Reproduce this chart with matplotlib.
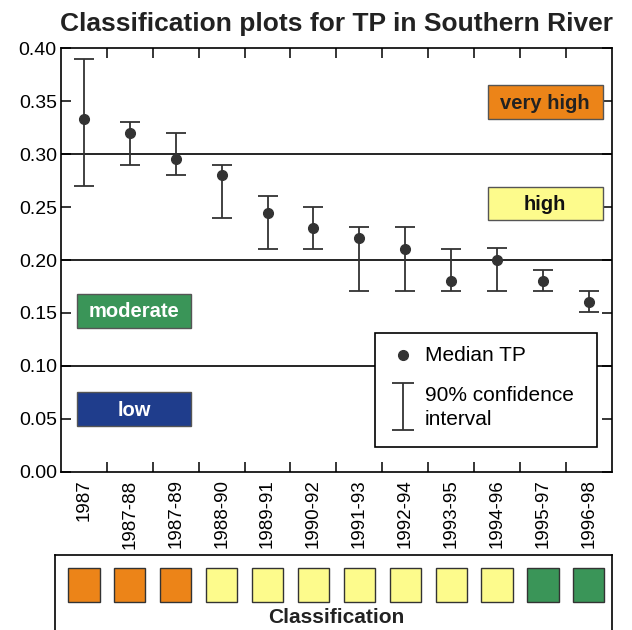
import numpy as np
import matplotlib.pyplot as plt
from matplotlib.patches import Rectangle

plt.rcParams['font.family'] = ['Liberation Sans', 'DejaVu Sans']

periods = ['1987', '1987-88', '1987-89', '1988-90', '1989-91', '1990-92',
           '1991-93', '1992-94', '1993-95', '1994-96', '1995-97', '1996-98']
median_tp = [0.333, 0.320, 0.295, 0.280, 0.244, 0.230, 0.221, 0.210, 0.180, 0.200, 0.180, 0.160]
ci_low = [0.270, 0.290, 0.280, 0.240, 0.210, 0.210, 0.171, 0.171, 0.171, 0.171, 0.171, 0.151]
ci_high = [0.390, 0.330, 0.320, 0.290, 0.260, 0.250, 0.231, 0.231, 0.210, 0.211, 0.191, 0.171]
period_class = ['very high'] * 3 + ['high'] * 7 + ['moderate'] * 2

class_names = ['very high', 'high', 'moderate', 'low']
class_colors = {'very high': '#ec8418', 'high': '#fdfb8c', 'moderate': '#3a9558', 'low': '#1f3d8c'}
class_text = {'very high': '#222222', 'high': '#111111', 'moderate': 'white', 'low': 'white'}
# label boxes: (x0, x1, y0, y1) in data units
class_box = {'very high': (9.3, 11.8, 0.333, 0.365), 'high': (9.3, 11.8, 0.238, 0.269),
             'moderate': (0.35, 2.83, 0.136, 0.168), 'low': (0.35, 2.83, 0.043, 0.075)}
bounds = [0.1, 0.2, 0.3]

fig = plt.figure(figsize=(6.32, 6.30), dpi=100)
ax = fig.add_axes([0.0965, 0.2508, 0.8715, 0.673])
x = np.arange(len(periods)) + 0.5
med = np.array(median_tp)
err = [med - np.array(ci_low), np.array(ci_high) - med]
ax.errorbar(x, med, yerr=err, fmt='o', color='#333333', ms=7, capsize=7.5,
            capthick=1.3, elinewidth=1.3, zorder=5)
for b in bounds:
    ax.axhline(b, color='black', lw=1.2, zorder=1)

for c in class_names:
    x0, x1, y0, y1 = class_box[c]
    ax.add_patch(Rectangle((x0, y0), x1 - x0, y1 - y0, facecolor=class_colors[c],
                           edgecolor='#555555', lw=1.0, zorder=3))
    ax.text((x0 + x1) / 2, (y0 + y1) / 2 - 0.001, c, ha='center', va='center', fontsize=14.5,
            fontweight='bold', color=class_text[c], zorder=4)

# legend box
ax.add_patch(Rectangle((6.84, 0.024), 4.84, 0.107, facecolor='white', edgecolor='black',
                       lw=1.2, zorder=3))
ax.plot([7.45], [0.110], 'o', color='#333333', ms=7, zorder=4)
ax.errorbar([7.45], [0.062], yerr=[[0.022], [0.022]], fmt='none', color='#333333',
            capsize=8, capthick=1.3, elinewidth=1.3, zorder=4)
ax.text(7.93, 0.110, 'Median TP', va='center', fontsize=15, zorder=4)
ax.text(7.93, 0.061, '90% confidence\ninterval', va='center', fontsize=15,
        linespacing=1.3, zorder=4)

ax.set_xlim(0, len(periods))
ax.set_ylim(0, 0.40)
ax.set_yticks(np.arange(0, 0.401, 0.05))
ax.set_yticklabels(['%.2f' % v for v in np.arange(0, 0.401, 0.05)], fontsize=14)
ax.set_xticks(np.arange(1, len(periods)))
ax.set_xticklabels([])
ax.tick_params(direction='in', length=7, width=1.1, top=True, right=True, pad=3)
for i, p in enumerate(periods):
    ax.text(x[i], -0.007, p, rotation=90, ha='center', va='top', fontsize=13.5)
for s in ax.spines.values():
    s.set_linewidth(1.2)
ax.set_title('Classification plots for TP in Southern River', fontsize=19,
             fontweight='bold', color='#222222', pad=12)

# classification strip
cax = fig.add_axes([0.087, -0.01, 0.881, 0.129])
cax.set_xlim(-0.13, len(periods))
cax.set_ylim(0, 1)
for i, c in enumerate(period_class):
    cax.add_patch(Rectangle((x[i] - 0.34, 0.42), 0.68, 0.42, facecolor=class_colors[c],
                            edgecolor='#333333', lw=1.0))
cax.text(len(periods) / 2, 0.23, 'Classification', ha='center', va='center',
         fontsize=15, fontweight='bold', color='#222222')
cax.set_xticks([])
cax.set_yticks([])
for s in cax.spines.values():
    s.set_linewidth(1.2)

fig.savefig('out.png', dpi=100)
